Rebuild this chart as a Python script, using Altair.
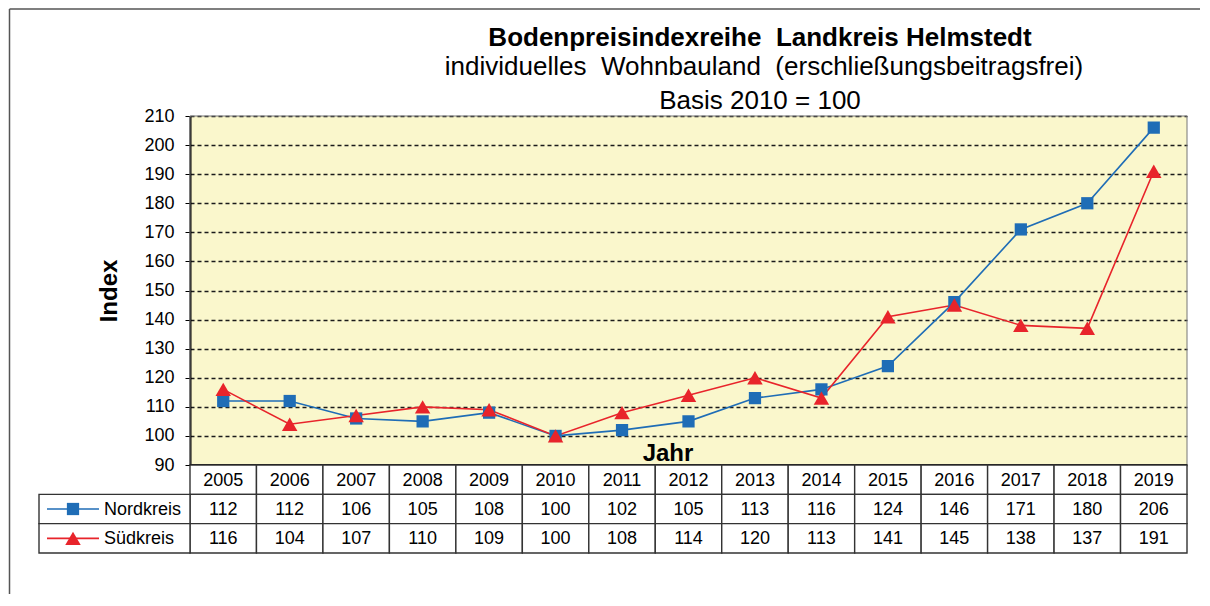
import altair as alt
import pandas as pd

# ---------------- data ----------------
years = list(range(2005, 2020))
nordkreis = [112, 112, 106, 105, 108, 100, 102, 105, 113, 116, 124, 146, 171, 180, 206]
suedkreis = [116, 104, 107, 110, 109, 100, 108, 114, 120, 113, 141, 145, 138, 137, 191]
series_names = ["Nordkreis", "Südkreis"]
series_colors = ["#1F6DB6", "#E8242B"]
series_shapes = ["square", "triangle-up"]
series_sizes = [150, 240]
y_ticks = list(range(90, 211, 10))
title_text = "Bodenpreisindexreihe \u00a0Landkreis Helmstedt"
subtitle_text = "individuelles \u00a0Wohnbauland \u00a0(erschließungsbeitragsfrei)"
basis_text = "Basis 2010 = 100"
x_title = "Jahr"
y_title = "Index"

# ---------------- layout / style ----------------
FONT = "Liberation Sans"
W, PH, TH = 997, 349, 88
X_DOMAIN = [years[0] - 0.5, years[-1] + 0.5]
Y_DOMAIN = [y_ticks[0], y_ticks[-1]]
PLOT_BG = "#FAF7CC"
GRID_C = "#1a1a1a"
CELL_STROKE = "#333333"

long_df = pd.DataFrame({
    "year": years * 2,
    "value": nordkreis + suedkreis,
    "series": [s for s in series_names for _ in years],
})

row_labels = [[str(y) for y in years], [str(v) for v in nordkreis], [str(v) for v in suedkreis]]
cells = []
for r, labels in enumerate(row_labels):
    for yr, lab in zip(years, labels):
        cells.append({"r": r, "year": yr, "label": lab})
cells_df = pd.DataFrame(cells)
cells_df["x1"] = cells_df["year"] - 0.5
cells_df["x2"] = cells_df["year"] + 0.5
cells_df["r2"] = cells_df["r"] + 1
cells_df["rm"] = cells_df["r"] + 0.5

legend_df = pd.DataFrame({"series": series_names, "r": [1, 2]})
legend_df["r2"] = legend_df["r"] + 1
legend_df["rm"] = legend_df["r"] + 0.5

frame_df = pd.DataFrame({"x1": [X_DOMAIN[0]], "x2": [X_DOMAIN[1]],
                         "y1": [Y_DOMAIN[0]], "y2": [Y_DOMAIN[1]]})
one = pd.DataFrame({"k": [0]})

xs = alt.Scale(domain=X_DOMAIN, nice=False, zero=False)
ys = alt.Scale(domain=Y_DOMAIN, nice=False, zero=False)
rs = alt.Scale(domain=[0, 3], reverse=True, nice=False, zero=False)

color = alt.Color("series:N", scale=alt.Scale(domain=series_names, range=series_colors), legend=None)
shape = alt.Shape("series:N", scale=alt.Scale(domain=series_names, range=series_shapes), legend=None)
size = alt.Size("series:N", scale=alt.Scale(domain=series_names, range=series_sizes), legend=None)

y_axis = alt.Axis(
    values=y_ticks, title=y_title, titleFont=FONT, titleFontSize=24, titleFontWeight="bold",
    titleColor="black", titlePadding=22, labelFont=FONT, labelFontSize=18, labelColor="black",
    labelPadding=11, labelOverlap=False, tickSize=5, tickColor="black", tickWidth=1,
    domainColor="black", domainWidth=2, grid=True, gridColor=GRID_C, gridDash=[4, 3],
    gridWidth=1.3, gridOpacity=1,
)

# ---------------- plot area ----------------
border = alt.Chart(frame_df).mark_rect(fill="transparent", stroke="#777777", strokeWidth=1).encode(
    x=alt.X("x1:Q", scale=xs, axis=None), x2="x2:Q",
    y=alt.Y("y1:Q", scale=ys, axis=y_axis), y2="y2:Q",
)
lines = alt.Chart(long_df).mark_line(strokeWidth=1.6).encode(
    x=alt.X("year:Q", scale=xs, axis=None),
    y=alt.Y("value:Q", scale=ys, axis=y_axis),
    color=color,
)
points = alt.Chart(long_df).mark_point(filled=True, opacity=1).encode(
    x=alt.X("year:Q", scale=xs, axis=None),
    y=alt.Y("value:Q", scale=ys, axis=y_axis),
    color=color,
    shape=shape,
    size=size,
)
base_rule = alt.Chart(frame_df).mark_rule(color="black", strokeWidth=2).encode(
    y=alt.Y("y1:Q", scale=ys, axis=y_axis), x=alt.X("x1:Q", scale=xs, axis=None), x2="x2:Q",
)


def label(text, x, y, size, weight="normal"):
    return alt.Chart(one).mark_text(text=text, font=FONT, fontSize=size, fontWeight=weight,
                                    color="black", align="center", baseline="alphabetic").encode(
        x=alt.value(x), y=alt.value(y))


t1 = label(title_text, 570, -70, 26, "bold")
t2 = label(subtitle_text, 574, -41, 26)
t3 = label(basis_text, 570, -7, 26)
jahr = label(x_title, 478, 345, 24, "bold")

frame_left = alt.Chart(one).mark_rule(color="#555555", strokeWidth=1.5).encode(
    x=alt.value(-180.5), y=alt.value(-107), y2=alt.value(478))
frame_top = alt.Chart(one).mark_rule(color="#555555", strokeWidth=1.5).encode(
    x=alt.value(-180.5), x2=alt.value(1010), y=alt.value(-107))

plot = alt.layer(border, lines, points, base_rule, t1, t2, t3, jahr, frame_left, frame_top).properties(
    width=W, height=PH, view=alt.ViewBackground(fill=PLOT_BG, stroke=None))

# ---------------- data table ----------------
cell_rects = alt.Chart(cells_df).mark_rect(fill="white", stroke=CELL_STROKE, strokeWidth=1.4).encode(
    x=alt.X("x1:Q", scale=xs, axis=None), x2="x2:Q",
    y=alt.Y("r:Q", scale=rs, axis=None), y2="r2:Q",
)
cell_text = alt.Chart(cells_df).mark_text(font=FONT, fontSize=18, color="black", baseline="middle", dy=1).encode(
    x=alt.X("year:Q", scale=xs, axis=None), y=alt.Y("rm:Q", scale=rs, axis=None), text="label:N",
)
leg_rects = alt.Chart(legend_df).mark_rect(fill="white", stroke=CELL_STROKE, strokeWidth=1.4).encode(
    x=alt.value(-151), x2=alt.value(0),
    y=alt.Y("r:Q", scale=rs, axis=None), y2="r2:Q",
)
leg_lines = alt.Chart(legend_df).mark_rule(strokeWidth=1.6).encode(
    x=alt.value(-143), x2=alt.value(-91), y=alt.Y("rm:Q", scale=rs, axis=None), color=color,
)
leg_points = alt.Chart(legend_df).mark_point(filled=True, opacity=1).encode(
    x=alt.value(-117), y=alt.Y("rm:Q", scale=rs, axis=None), color=color, shape=shape, size=size,
)
leg_text = alt.Chart(legend_df).mark_text(font=FONT, fontSize=18, color="black", align="left",
                                          baseline="middle", dy=1).encode(
    x=alt.value(-86), y=alt.Y("rm:Q", scale=rs, axis=None), text="series:N",
)
table = alt.layer(cell_rects, cell_text, leg_rects, leg_lines, leg_points, leg_text).properties(
    width=W, height=TH, view=alt.ViewBackground(fill="white", stroke=None))

chart = alt.vconcat(plot, table, spacing=0, bounds="flush").properties(
    padding=0,
).configure_view(stroke=None).configure(font=FONT)

chart.save("out.html", embed_options={"renderer": "svg", "actions": False})
